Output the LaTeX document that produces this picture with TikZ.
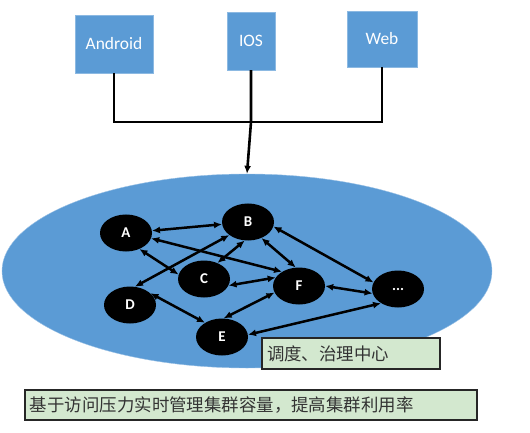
\documentclass[tikz,border=0pt]{standalone}
\usepackage{fontspec}
\newfontfamily\carlito{Carlito}
\newfontfamily\cjk{Noto Sans CJK SC}
\usetikzlibrary{shapes.geometric,arrows.meta}
\definecolor{boxblue}{HTML}{5B9BD5}
\definecolor{noteGreen}{HTML}{D3E8CF}
\tikzset{
    client/.style={rectangle,fill=boxblue,draw=boxblue!70!white,thin,text=white,font=\carlito\fontsize{17.5}{19}\selectfont},
    server/.style={ellipse,fill=black,minimum width=52bp,minimum height=37bp,inner sep=0pt,text=white,font=\carlito\bfseries\fontsize{15}{17}\selectfont},
    link/.style={line width=2.5bp,{Latex[length=8bp,width=7bp]}-{Latex[length=8bp,width=7bp]}},
    note/.style={rectangle,fill=noteGreen,draw=black!85,line width=2bp,inner xsep=5bp,text=black!80,font=\cjk\fontsize{17.5}{19}\selectfont,align=left}
}
\begin{document}
\begin{tikzpicture}[x=1bp,y=-1bp]
    \useasboundingbox (0,0) rectangle (530,433);
    % clients
    \node[client,minimum width=78bp,minimum height=58bp] (android) at (114,44) {Android};
    \node[client,minimum width=48bp,minimum height=58bp] (ios) at (251,41) {IOS};
    \node[client,minimum width=70bp,minimum height=56bp] (web) at (382,39) {Web};
    % cluster
    \node[ellipse,fill=boxblue,draw=boxblue!60!white,minimum width=490bp,minimum height=194bp] (cluster) at (247,271) {};
    \coordinate (hub) at (251,122);
    \draw[line width=2.6bp] (android.south) |- (hub) -| (web.south);
    \draw[line width=2.6bp,-{Latex[length=8bp,width=7bp]}] (ios.south) -- (hub) -- (cluster.north);
    % servers
    \foreach \p/\x/\y in {A/126/233,B/248/222,C/204/279,D/130/305,E/222/337,F/299/286} {
        \node[server] (\p) at (\x,\y) {\p};
    }
    \node[server] (G) at (398,289) {...};
    \draw[link] (A.5) -- (B.185);
    \draw[link] (A.-12) -- (F.140);
    \draw[link] (A.-50) -- (C.170);
    \draw[link] (D.75) -- (B.215);
    \draw[link] (C.50) -- (B.-100);
    \draw[link] (C.-15) -- (F.160);
    \draw[link] (B.-50) -- (F.100);
    \draw[link] (B.-10) -- (G.165);
    \draw[link] (F.0) -- (G.190);
    \draw[link] (D.30) -- (E.140);
    \draw[link] (E.85) -- (F.195);
    \draw[link] (E.5) -- (G.-140);
    % notes
    \node[note,minimum width=178bp,minimum height=31bp,text width=168bp] (center) at (351,353.5) {调度、治理中心};
    \node[note,minimum width=452bp,minimum height=30bp,text width=442bp] (goal) at (251,405) {基于访问压力实时管理集群容量，提高集群利用率};
\end{tikzpicture}
\end{document}
